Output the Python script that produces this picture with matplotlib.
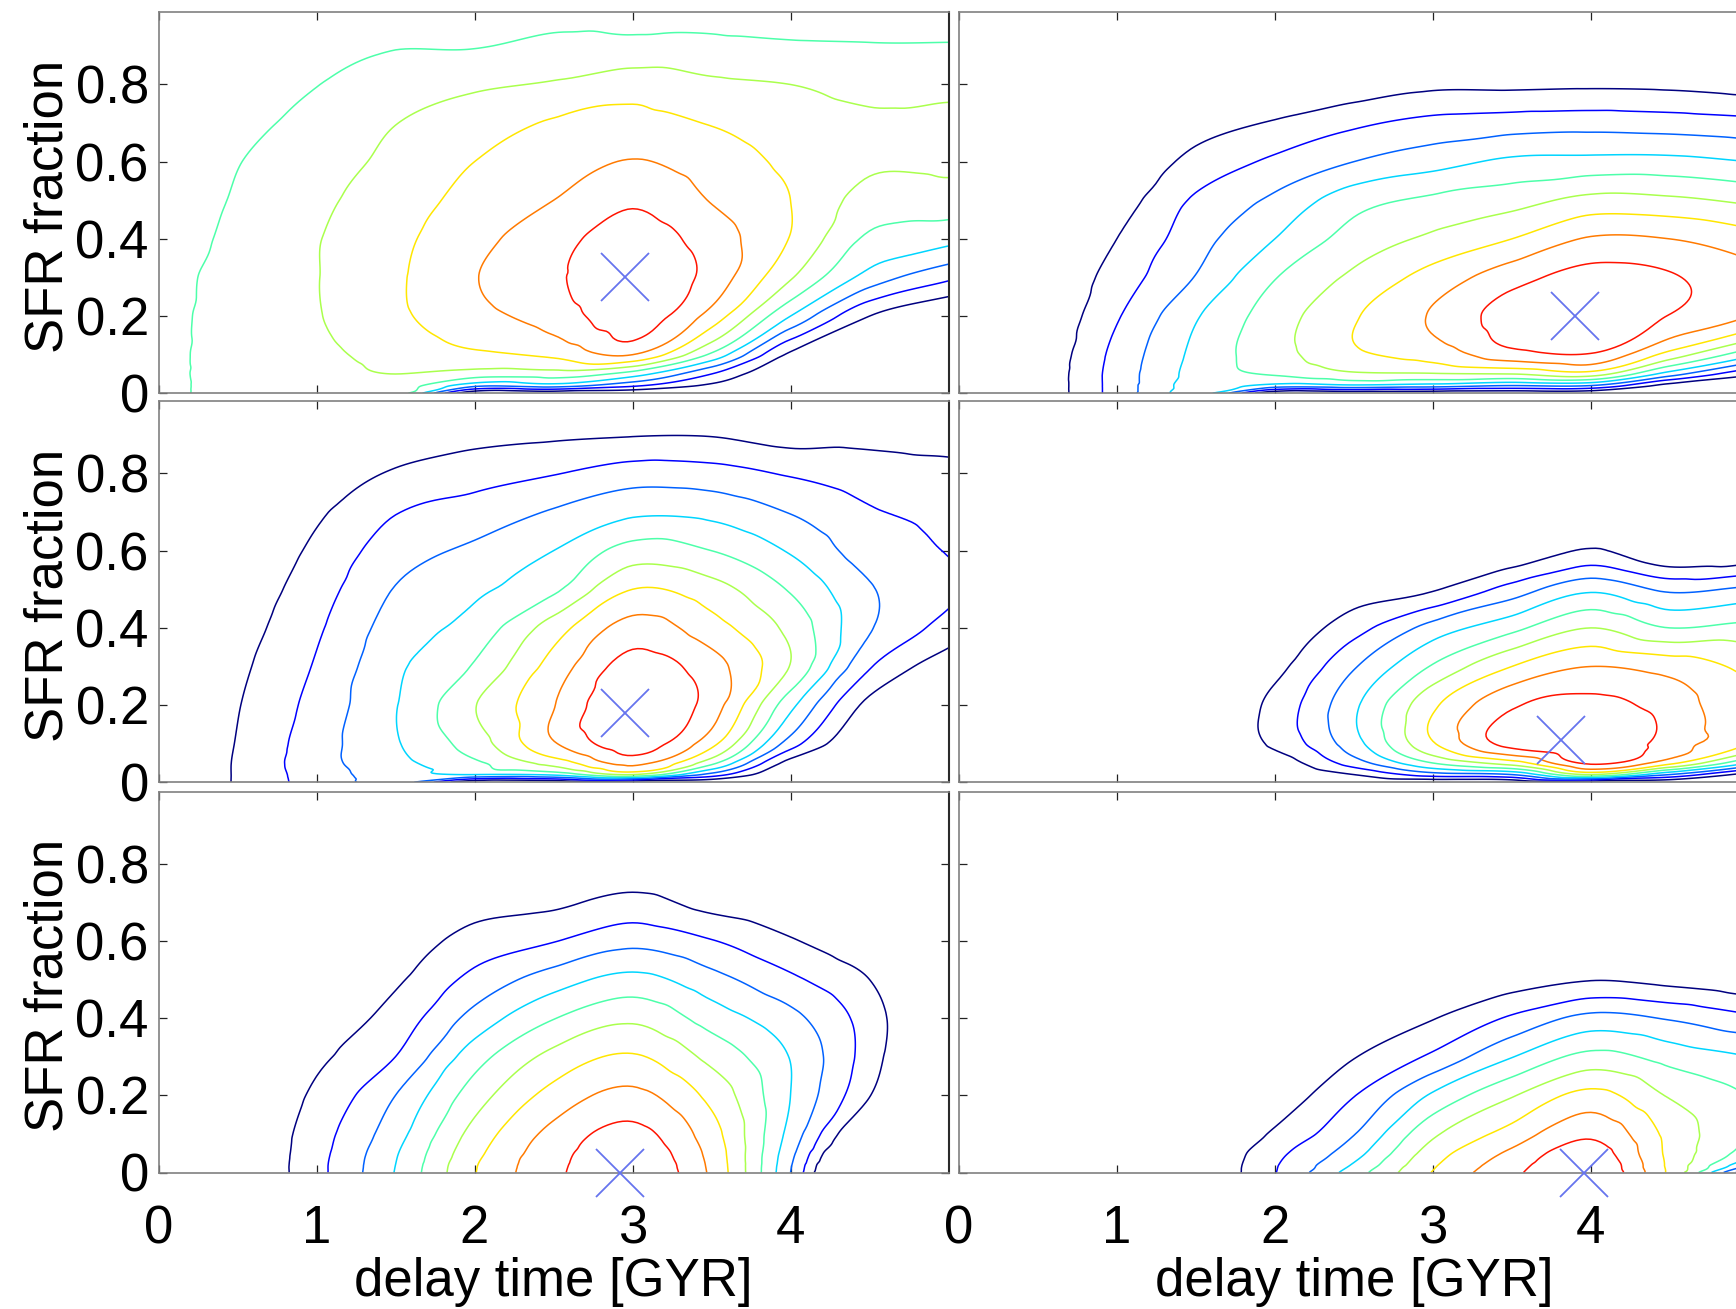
import numpy as np
import matplotlib
matplotlib.use("Agg")
import matplotlib.pyplot as plt
from matplotlib.tri import Triangulation, UniformTriRefiner, CubicTriInterpolator

plt.rcParams["font.family"] = ["Liberation Sans", "DejaVu Sans"]

# Grid nodes of the tabulated likelihood surfaces
delay_nodes = [0.0, 0.5, 1.0, 1.5, 2.0, 2.5, 3.0, 3.5, 4.0, 4.5, 5.0]
sfr_nodes = [0.0, 0.02, 0.05, 0.1, 0.2, 0.3, 0.4, 0.5, 0.6, 0.7, 0.8, 0.9, 1.0]

# Surfaces in contour-level units: one list per delay node,
# each list holds the values at the SFR-fraction nodes.
surface_top_left = [
    [4.4, 4.4, 4.45, 4.5, 4.55, 4.6, 4.6, 4.55, 4.5, 4.4, 4.3, 4.2, 4.1],
    [5.7, 5.7, 5.7, 5.65, 5.55, 5.4, 5.2, 5.08, 4.97, 4.8, 4.65, 4.5, 4.3],
    [5.6, 5.65, 5.7, 5.8, 5.95, 5.97, 5.95, 5.8, 5.55, 5.25, 4.98, 4.75, 4.5],
    [5.5, 5.6, 6.0, 6.35, 6.8, 6.85, 6.75, 6.5, 6.25, 5.98, 5.55, 4.95, 4.6],
    [0.0, 3.3, 5.5, 6.8, 7.7, 7.95, 7.7, 7.35, 7.0, 6.5, 5.85, 4.95, 4.5],
    [0.0, 3.5, 5.5, 7.2, 8.4, 8.8, 8.6, 8.0, 7.5, 7.1, 6.1, 5.2, 4.7],
    [0.0, 2.2, 4.5, 8.0, 9.6, 10.0, 9.5, 8.85, 8.05, 7.3, 6.6, 5.2, 4.7],
    [0.0, 0.8, 2.0, 4.8, 7.6, 8.6, 8.5, 7.95, 7.5, 6.95, 6.2, 5.2, 4.7],
    [0.0, 0.0, 0.0, 0.8, 4.0, 6.1, 6.95, 7.0, 6.8, 6.5, 6.0, 5.1, 4.6],
    [0.0, 0.0, 0.0, 0.0, 1.0, 3.6, 4.8, 5.6, 6.15, 6.15, 5.7, 5.05, 4.6],
    [0.0, 0.0, 0.0, 0.0, 0.0, 2.2, 4.3, 5.55, 6.2, 6.2, 5.75, 5.05, 4.6],
]
surface_top_right = [
    [0.0] * 13,
    [0.3, 0.3, 0.3, 0.25, 0.1, 0, 0, 0, 0, 0, 0, 0, 0],
    [2.4, 2.4, 2.4, 2.3, 1.9, 1.45, 1.0, 0.55, 0.2, 0, 0, 0, 0],
    [4.4, 4.4, 4.35, 4.25, 3.9, 3.05, 2.6, 2.15, 1.3, 0.6, 0, 0, 0],
    [0.0, 3.6, 5.1, 5.6, 5.5, 4.95, 4.0, 3.2, 2.2, 1.1, 0, 0, 0],
    [0.0, 3.8, 5.8, 6.8, 6.9, 6.2, 5.4, 4.6, 3.0, 1.8, 0.4, 0, 0],
    [0.0, 3.5, 5.9, 7.4, 8.1, 7.4, 6.2, 5.2, 3.6, 2.3, 0.8, 0, 0],
    [0.0, 3.0, 6.0, 8.6, 9.5, 8.6, 7.0, 5.6, 4.2, 2.5, 0.8, 0, 0],
    [0.0, 3.0, 6.5, 8.9, 10.0, 9.4, 8.1, 6.3, 4.3, 2.6, 0.85, 0, 0],
    [0.0, 0.6, 3.5, 6.6, 8.95, 9.1, 8.0, 6.2, 4.3, 2.5, 0.8, 0, 0],
    [0.0, 0.0, 1.2, 4.3, 8.0, 8.3, 7.4, 5.8, 4.0, 2.3, 0.6, 0, 0],
]
surface_mid_left = [
    [0.0] * 13,
    [1.1, 1.1, 1.1, 1.05, 0.95, 0.8, 0.6, 0.4, 0.25, 0.1, 0, 0, 0],
    [2.45, 2.5, 2.6, 2.55, 2.35, 2.1, 1.85, 1.55, 1.2, 0.85, 0.5, 0.2, 0],
    [3.35, 3.5, 3.7, 3.9, 3.95, 3.8, 3.45, 3.05, 2.55, 1.95, 1.1, 0.5, 0.1],
    [0.0, 4.0, 4.8, 5.5, 5.95, 5.1, 4.4, 3.8, 3.2, 2.4, 1.6, 0.7, 0.2],
    [0.0, 4.2, 6.4, 7.9, 7.95, 7.4, 6.5, 4.8, 4.0, 3.1, 1.95, 0.85, 0.3],
    [0.0, 6.0, 8.3, 9.5, 10.0, 9.4, 8.4, 7.0, 5.4, 3.8, 2.5, 0.95, 0.3],
    [0.0, 2.6, 5.3, 7.3, 8.5, 8.4, 7.4, 6.4, 5.0, 3.7, 2.4, 0.95, 0.3],
    [0.0, 0.0, 0.6, 2.5, 4.3, 5.95, 5.7, 4.9, 3.9, 2.95, 1.9, 0.6, 0.2],
    [0.0, 0.0, 0.0, 0.0, 0.7, 2.1, 3.1, 3.1, 2.5, 2.1, 1.5, 0.7, 0.2],
    [0.0, 0.0, 0.0, 0.0, 0.0, 0.4, 1.6, 2.2, 1.95, 1.8, 1.3, 0.6, 0.2],
]
surface_mid_right = [
    [0.0] * 13,
    [0.0] * 13,
    [0.0] * 13,
    [0.0] * 13,
    [0.0, 0.0, 0.4, 1.2, 1.3, 0.7, 0.2, 0, 0, 0, 0, 0, 0],
    [0.0, 1.0, 2.5, 3.6, 3.8, 2.9, 1.6, 0.5, 0, 0, 0, 0, 0],
    [0.0, 2.5, 5.0, 6.9, 6.8, 5.1, 3.4, 0.9, 0, 0, 0, 0, 0],
    [0.0, 3.0, 6.5, 9.4, 8.85, 7.0, 4.7, 2.4, 0.2, 0, 0, 0, 0],
    [0.0, 6.0, 9.2, 10.0, 9.3, 8.0, 6.0, 3.8, 1.1, 0, 0, 0, 0],
    [0.0, 3.0, 7.3, 8.5, 8.55, 7.6, 5.0, 2.8, 0.0, 0, 0, 0, 0],
    [0.0, 0.6, 4.0, 7.0, 7.0, 6.7, 5.3, 3.2, 0.1, 0, 0, 0, 0],
]
surface_bottom_left = [
    [0.0] * 13,
    [0.0] * 13,
    [1.7, 1.7, 1.65, 1.55, 1.2, 0.8, 0.4, 0.1, 0, 0, 0, 0, 0],
    [4.05, 4.0, 3.9, 3.6, 3.0, 2.0, 1.4, 0.85, 0.4, 0.1, 0, 0, 0],
    [6.95, 6.9, 6.7, 6.35, 5.5, 4.55, 3.35, 2.3, 1.4, 0.6, 0.1, 0, 0],
    [8.75, 8.7, 8.6, 8.3, 7.35, 6.3, 4.95, 3.5, 1.95, 0.8, 0.2, 0, 0],
    [9.85, 9.8, 9.65, 9.3, 8.25, 7.1, 5.8, 4.3, 2.7, 1.3, 0.3, 0, 0],
    [7.8, 7.75, 7.65, 7.4, 6.7, 5.7, 4.55, 3.35, 2.05, 0.65, 0, 0, 0],
    [3.0, 3.1, 3.3, 3.65, 4.0, 3.95, 3.3, 2.2, 1.1, 0.2, 0, 0, 0],
    [-3.5, -3.0, -2.0, -0.6, 1.05, 1.5, 1.5, 1.0, 0.2, -0.3, -0.5, -0.5, -0.5],
    [-3.5, -3.5, -3.0, -2.5, -2.0, -1.5, -1.0, -1.0, -1.0, -1.0, -1.0, -1.0, -1.0],
]
surface_bottom_right = [
    [0.0] * 13,
    [0.0] * 13,
    [0.0] * 13,
    [0.0] * 13,
    [1.96, 1.9, 1.7, 1.15, 0.4, 0, 0, 0, 0, 0, 0, 0, 0],
    [4.5, 4.1, 3.6, 2.95, 1.95, 0.95, 0.3, 0, 0, 0, 0, 0, 0],
    [7.05, 6.85, 6.5, 5.8, 4.15, 2.2, 0.95, 0.3, 0, 0, 0, 0, 0],
    [8.75, 8.55, 8.2, 7.4, 5.9, 3.95, 2.15, 0.55, 0, 0, 0, 0, 0],
    [9.95, 9.85, 9.5, 8.8, 7.3, 5.3, 3.3, 0.95, 0, 0, 0, 0, 0],
    [6.8, 6.78, 6.75, 6.7, 5.9, 4.6, 2.9, 0.7, 0, 0, 0, 0, 0],
    [1.0, 3.0, 4.4, 4.85, 4.95, 4.0, 2.2, 0.3, 0, 0, 0, 0, 0],
]

# Best-fit points (delay time, SFR fraction)
best_delay = [2.95, 3.9, 2.95, 3.81, 2.92, 3.96]
best_sfr = [0.30, 0.20, 0.18, 0.11, 0.0, 0.0]

contour_levels = [1, 2, 3, 4, 5, 6, 7, 8, 9]
x_ticks = [0, 1, 2, 3, 4]
x_ticklabels = ["0", "1", "2", "3", "4"]
y_ticks = [0, 0.2, 0.4, 0.6, 0.8]
y_ticklabels = ["0", "0.2", "0.4", "0.6", "0.8"]

W, H = 1736, 1309
fig = plt.figure(figsize=(W / 100, H / 100), dpi=100)

col_left = [158.5 / W, 958.8 / W]
ax_w = 790 / W
row_bottom = [1 - 393.3 / H, 1 - 782.3 / H, 1 - 1172.5 / H]
ax_h = 381 / H

surfaces = [
    [surface_top_left, surface_top_right],
    [surface_mid_left, surface_mid_right],
    [surface_bottom_left, surface_bottom_right],
]

line_colors = [plt.cm.jet(i / 9) for i in range(9)]
y_stretch = 5.0  # put both axes on a comparable scale before smoothing


def build_triangles(nx, ny):
    tris = []
    for j in range(ny - 1):
        for i in range(nx - 1):
            a = j * nx + i
            b = a + 1
            c = a + nx
            d = c + 1
            tris.append([a, b, d])
            tris.append([a, d, c])
    return np.array(tris)


gx, gy = np.meshgrid(np.array(delay_nodes), np.array(sfr_nodes))
triangles = build_triangles(len(delay_nodes), len(sfr_nodes))
base_tri = Triangulation(gx.ravel(), gy.ravel() * y_stretch, triangles)
refiner = UniformTriRefiner(base_tri)

k = 0
for r in range(3):
    for c in range(2):
        ax = fig.add_axes([col_left[c], row_bottom[r], ax_w, ax_h])
        z = np.array(surfaces[r][c], dtype=float).T.ravel()
        interp = CubicTriInterpolator(base_tri, z, kind="geom")
        fine_tri, fine_z = refiner.refine_field(z, triinterpolator=interp, subdiv=4)
        plot_tri = Triangulation(fine_tri.x, fine_tri.y / y_stretch, fine_tri.triangles)
        ax.tricontour(plot_tri, fine_z, levels=contour_levels, colors=line_colors,
                      linewidths=1.1)
        ax.plot([best_delay[k]], [best_sfr[k]], linestyle="none", marker="x",
                markersize=34, markeredgewidth=1.3, color="#6674ee",
                clip_on=False, zorder=5)
        k += 1

        ax.set_xlim(0, 5)
        ax.set_ylim(0, 0.987)
        ax.set_xticks(x_ticks)
        ax.set_yticks(y_ticks)
        ax.tick_params(direction="in", length=6, width=0.9, color="#222222",
                       top=True, right=True, labelsize=38)
        ax.tick_params(axis="x", pad=23)
        ax.tick_params(axis="y", pad=7)
        for s in ax.spines.values():
            s.set_color("#808080")
            s.set_linewidth(1.2)
        if c == 0:
            ax.spines["right"].set_color("#2a2a2a")
            ax.spines["right"].set_linewidth(1.5)
            ax.set_yticklabels(y_ticklabels)
            ax.set_ylabel("SFR fraction", fontsize=38)
            ax.yaxis.set_label_coords(-0.107, 0.49)
        else:
            ax.set_yticklabels([])
        if r == 2:
            ax.set_xticklabels(x_ticklabels)
            ax.set_xlabel("delay time [GYR]", fontsize=38)
            ax.xaxis.set_label_coords(0.5, -0.222)
        else:
            ax.set_xticklabels([])

fig.savefig("out.png", dpi=100)
